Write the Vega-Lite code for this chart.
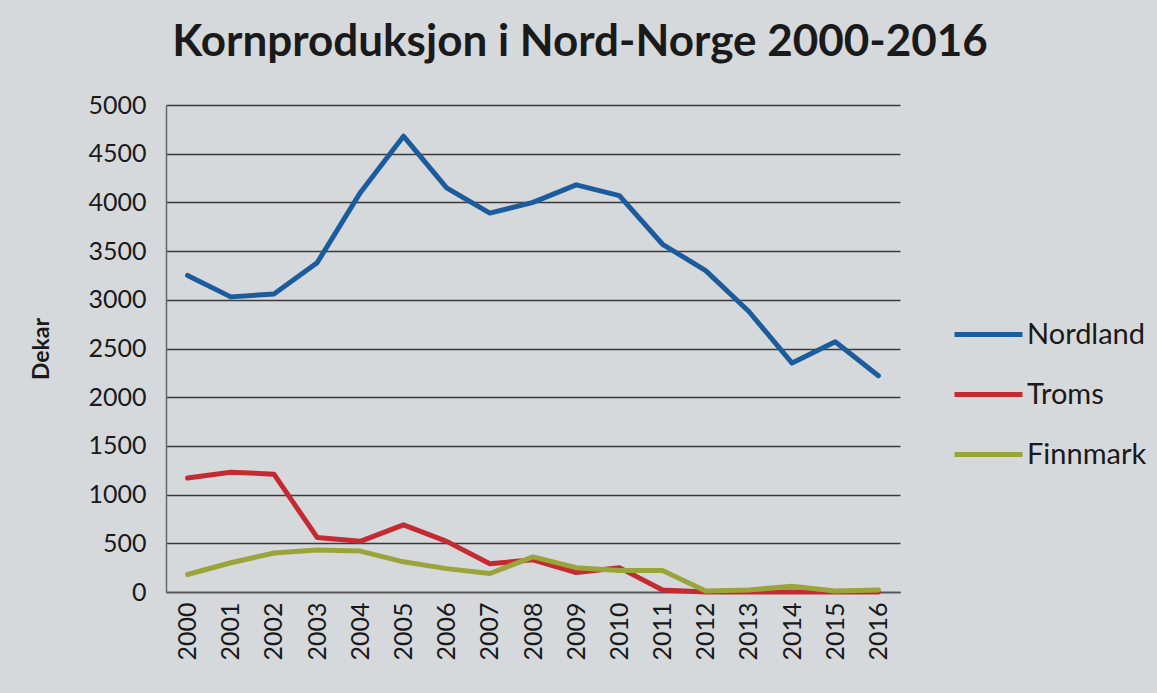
{
  "$schema": "https://vega.github.io/schema/vega-lite/v6.json",
  "width": 734,
  "height": 487,
  "autosize": {"type": "none"},
  "padding": {"left": 166, "top": 105, "right": 257, "bottom": 101},
  "background": "#d6d9dc",
  "config": {"view": {"stroke": null}, "font": "Lato"},
  "title": {
    "text": "Kornproduksjon i Nord-Norge 2000-2016",
    "fontSize": 44,
    "font": "Lato",
    "fontWeight": "bold",
    "color": "#1a1a1a",
    "anchor": "middle",
    "offset": 28,
    "dx": 47
  },
  "data": {
    "values": [
      {"year": "2000", "region": "Nordland", "dekar": 3250},
      {"year": "2001", "region": "Nordland", "dekar": 3030},
      {"year": "2002", "region": "Nordland", "dekar": 3060},
      {"year": "2003", "region": "Nordland", "dekar": 3380},
      {"year": "2004", "region": "Nordland", "dekar": 4100},
      {"year": "2005", "region": "Nordland", "dekar": 4680},
      {"year": "2006", "region": "Nordland", "dekar": 4150},
      {"year": "2007", "region": "Nordland", "dekar": 3890},
      {"year": "2008", "region": "Nordland", "dekar": 4000},
      {"year": "2009", "region": "Nordland", "dekar": 4180},
      {"year": "2010", "region": "Nordland", "dekar": 4070},
      {"year": "2011", "region": "Nordland", "dekar": 3570},
      {"year": "2012", "region": "Nordland", "dekar": 3300},
      {"year": "2013", "region": "Nordland", "dekar": 2880},
      {"year": "2014", "region": "Nordland", "dekar": 2350},
      {"year": "2015", "region": "Nordland", "dekar": 2570},
      {"year": "2016", "region": "Nordland", "dekar": 2220},
      {"year": "2000", "region": "Troms", "dekar": 1170},
      {"year": "2001", "region": "Troms", "dekar": 1230},
      {"year": "2002", "region": "Troms", "dekar": 1210},
      {"year": "2003", "region": "Troms", "dekar": 560},
      {"year": "2004", "region": "Troms", "dekar": 520},
      {"year": "2005", "region": "Troms", "dekar": 690},
      {"year": "2006", "region": "Troms", "dekar": 520},
      {"year": "2007", "region": "Troms", "dekar": 290},
      {"year": "2008", "region": "Troms", "dekar": 330},
      {"year": "2009", "region": "Troms", "dekar": 200},
      {"year": "2010", "region": "Troms", "dekar": 250},
      {"year": "2011", "region": "Troms", "dekar": 20},
      {"year": "2012", "region": "Troms", "dekar": 0},
      {"year": "2013", "region": "Troms", "dekar": 0},
      {"year": "2014", "region": "Troms", "dekar": 0},
      {"year": "2015", "region": "Troms", "dekar": 0},
      {"year": "2016", "region": "Troms", "dekar": 0},
      {"year": "2000", "region": "Finnmark", "dekar": 180},
      {"year": "2001", "region": "Finnmark", "dekar": 300},
      {"year": "2002", "region": "Finnmark", "dekar": 400},
      {"year": "2003", "region": "Finnmark", "dekar": 430},
      {"year": "2004", "region": "Finnmark", "dekar": 420},
      {"year": "2005", "region": "Finnmark", "dekar": 310},
      {"year": "2006", "region": "Finnmark", "dekar": 240},
      {"year": "2007", "region": "Finnmark", "dekar": 190},
      {"year": "2008", "region": "Finnmark", "dekar": 360},
      {"year": "2009", "region": "Finnmark", "dekar": 250},
      {"year": "2010", "region": "Finnmark", "dekar": 220},
      {"year": "2011", "region": "Finnmark", "dekar": 220},
      {"year": "2012", "region": "Finnmark", "dekar": 10},
      {"year": "2013", "region": "Finnmark", "dekar": 20},
      {"year": "2014", "region": "Finnmark", "dekar": 60},
      {"year": "2015", "region": "Finnmark", "dekar": 10},
      {"year": "2016", "region": "Finnmark", "dekar": 20}
    ]
  },
  "mark": {"type": "line", "strokeWidth": 5, "strokeJoin": "round", "strokeCap": "round"},
  "encoding": {
    "x": {
      "field": "year",
      "type": "ordinal",
      "scale": {"type": "point", "padding": 0.5},
      "axis": {
        "title": null,
        "labelAngle": -90,
        "labelFontSize": 25,
        "labelColor": "#1a1a1a",
        "labelPadding": 10,
        "ticks": false,
        "domainColor": "#555",
        "domainWidth": 1.5,
        "grid": false
      }
    },
    "y": {
      "field": "dekar",
      "type": "quantitative",
      "scale": {"domain": [0, 5000], "nice": false},
      "axis": {
        "title": "Dekar",
        "titleFontSize": 23,
        "titleFontWeight": "bold",
        "titleColor": "#1a1a1a",
        "titlePadding": 34,
        "format": "d",
        "values": [0, 500, 1000, 1500, 2000, 2500, 3000, 3500, 4000, 4500, 5000],
        "labelFontSize": 25,
        "labelColor": "#1a1a1a",
        "labelPadding": 20,
        "ticks": false,
        "domain": true,
        "domainColor": "#666",
        "domainWidth": 1.5,
        "grid": true,
        "gridColor": "#3a3a3a",
        "gridWidth": 1.5
      }
    },
    "color": {
      "field": "region",
      "type": "nominal",
      "sort": ["Nordland", "Troms", "Finnmark"],
      "scale": {"domain": ["Nordland", "Troms", "Finnmark"], "range": ["#1d5c9c", "#c42a32", "#9aa43a"]},
      "legend": {
        "title": null,
        "orient": "none",
        "legendX": 786,
        "legendY": 193,
        "symbolType": "stroke",
        "symbolSize": 4624,
        "symbolStrokeWidth": 5,
        "labelFontSize": 29,
        "labelColor": "#1a1a1a",
        "labelOffset": 2,
        "rowPadding": 8
      }
    }
  }
}
